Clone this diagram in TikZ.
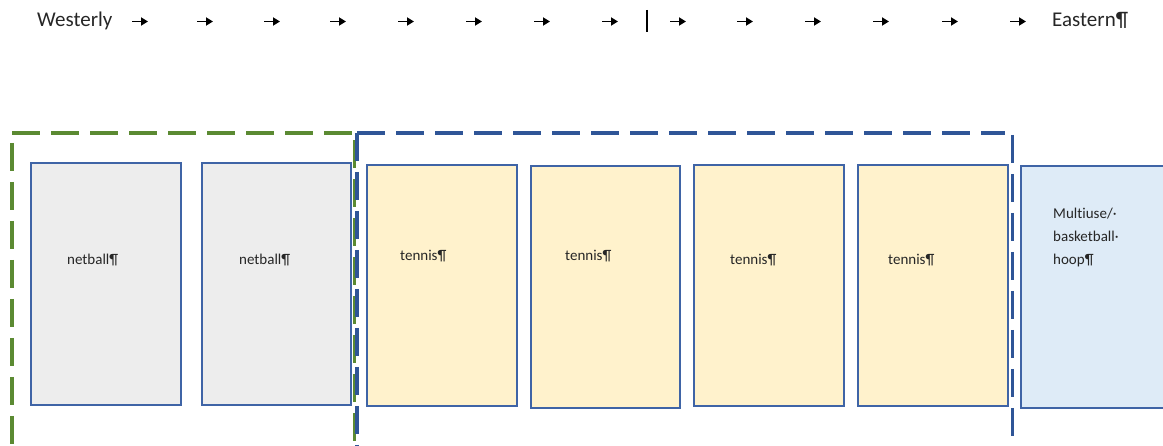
\documentclass[tikz,border=0pt]{standalone}
\usepackage{fontspec}
\setmainfont[Ligatures=NoCommon]{Carlito}
\usetikzlibrary{arrows.meta}
\definecolor{courtline}{HTML}{3F64A6}
\definecolor{netfill}{HTML}{EDEDED}
\definecolor{tenfill}{HTML}{FFF2CC}
\definecolor{multifill}{HTML}{DEEBF7}
\definecolor{greendash}{HTML}{5B8A32}
\definecolor{bluedash}{HTML}{2F5597}
\definecolor{txt}{HTML}{262626}
\tikzset{
  court/.style={draw=courtline, line width=1.8pt, anchor=north west, inner sep=0pt},
  zone/.style={line width=3.2pt, dash pattern=on 28pt off 11pt},
  tabarrow/.style={line width=1.8pt, draw=black, -{Triangle[length=7pt,width=8pt]}},
  toplabel/.style={anchor=base west, inner sep=0pt, font=\fontsize{21}{25}\selectfont, text=txt},
  courtlabel/.style={anchor=base west, inner sep=0pt, font=\fontsize{15}{23}\selectfont, text=txt, align=left}
}
\begin{document}
\begin{tikzpicture}[x=1pt,y=-1pt]
\useasboundingbox (0,0) rectangle (1163,446);
% header
\node[toplabel] (west) at (37,27) {Westerly};
\node[toplabel] (east) at (1052,27) {Eastern¶};
\foreach \s in {132,197,264,330,398,466,534,602,670,737,805,873,942,1010}
  \draw[tabarrow] (\s,21.5) -- ++(16,0);
\coordinate (bartop) at (647,10);
\coordinate (barbot) at (647,32);
\draw[line width=1.8pt] (bartop) -- (barbot);
% courts
\node[court, fill=netfill, minimum width=150pt, minimum height=242pt] (n1) at (30,162) {};
\node[court, fill=netfill, minimum width=149pt, minimum height=242pt] (n2) at (201,162) {};
\node[court, fill=tenfill, minimum width=150pt, minimum height=241pt] (t1) at (366,164) {};
\node[court, fill=tenfill, minimum width=149pt, minimum height=242pt] (t2) at (530,165) {};
\node[court, fill=tenfill, minimum width=150pt, minimum height=241pt] (t3) at (693,164) {};
\node[court, fill=tenfill, minimum width=150pt, minimum height=241pt] (t4) at (857,164) {};
\node[court, fill=multifill, minimum width=160pt, minimum height=242pt] (m) at (1020,165) {};
% labels
\node[courtlabel] (ln1) at (67,265) {netball¶};
\node[courtlabel] (ln2) at (239,265) {netball¶};
\node[courtlabel] (lt1) at (400,261) {tennis¶};
\node[courtlabel] (lt2) at (565,261) {tennis¶};
\node[courtlabel] (lt3) at (730,265) {tennis¶};
\node[courtlabel] (lt4) at (888,265) {tennis¶};
\node[courtlabel] (lm) at (1053,265) {Multiuse/·\\basketball·\\hoop¶};
% zones
\draw[zone, draw=greendash] (12,133) -- (352,133);
\draw[zone, draw=greendash] (12,143) -- (12,470);
\draw[zone, draw=greendash] (354.5,140) -- (354.5,470);
\draw[zone, draw=bluedash] (357,133) -- (1005,133);
\draw[zone, draw=bluedash] (357,133) -- (357,470);
\draw[zone, draw=bluedash] (1012.5,135) -- (1012.5,470);
\end{tikzpicture}
\end{document}
